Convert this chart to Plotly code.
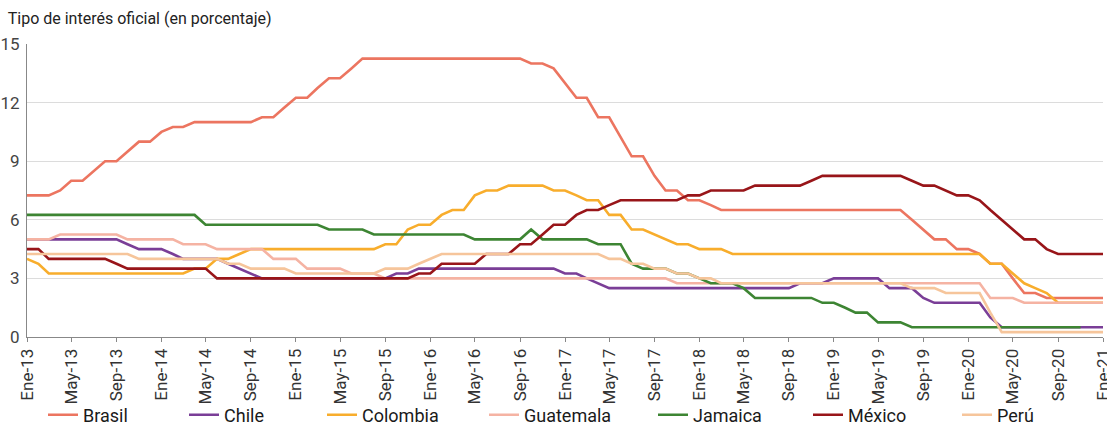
import pandas as pd
import plotly.graph_objects as go

# monthly series, Ene-13 .. Ene-21 (97 months)
months = pd.date_range("2013-01-01", "2021-01-01", freq="MS")

brasil = [7.25, 7.25, 7.25, 7.5, 8.0, 8.0, 8.5, 9.0, 9.0, 9.5, 10.0, 10.0,
          10.5, 10.75, 10.75, 11.0, 11.0, 11.0, 11.0, 11.0, 11.0, 11.25, 11.25, 11.75,
          12.25, 12.25, 12.75, 13.25, 13.25, 13.75, 14.25, 14.25, 14.25, 14.25, 14.25, 14.25,
          14.25, 14.25, 14.25, 14.25, 14.25, 14.25, 14.25, 14.25, 14.25, 14.0, 14.0, 13.75,
          13.0, 12.25, 12.25, 11.25, 11.25, 10.25, 9.25, 9.25, 8.25, 7.5, 7.5, 7.0,
          7.0, 6.75, 6.5, 6.5, 6.5, 6.5, 6.5, 6.5, 6.5, 6.5, 6.5, 6.5,
          6.5, 6.5, 6.5, 6.5, 6.5, 6.5, 6.5, 6.0, 5.5, 5.0, 5.0, 4.5,
          4.5, 4.25, 3.75, 3.75, 3.0, 2.25, 2.25, 2.0, 2.0, 2.0, 2.0, 2.0,
          2.0]

chile = [5.0, 5.0, 5.0, 5.0, 5.0, 5.0, 5.0, 5.0, 5.0, 4.75, 4.5, 4.5,
         4.5, 4.25, 4.0, 4.0, 4.0, 4.0, 3.75, 3.5, 3.25, 3.0, 3.0, 3.0,
         3.0, 3.0, 3.0, 3.0, 3.0, 3.0, 3.0, 3.0, 3.0, 3.25, 3.25, 3.5,
         3.5, 3.5, 3.5, 3.5, 3.5, 3.5, 3.5, 3.5, 3.5, 3.5, 3.5, 3.5,
         3.25, 3.25, 3.0, 2.75, 2.5, 2.5, 2.5, 2.5, 2.5, 2.5, 2.5, 2.5,
         2.5, 2.5, 2.5, 2.5, 2.5, 2.5, 2.5, 2.5, 2.5, 2.75, 2.75, 2.75,
         3.0, 3.0, 3.0, 3.0, 3.0, 2.5, 2.5, 2.5, 2.0, 1.75, 1.75, 1.75,
         1.75, 1.75, 1.0, 0.5, 0.5, 0.5, 0.5, 0.5, 0.5, 0.5, 0.5, 0.5,
         0.5]

colombia = [4.0, 3.75, 3.25, 3.25, 3.25, 3.25, 3.25, 3.25, 3.25, 3.25, 3.25, 3.25,
            3.25, 3.25, 3.25, 3.5, 3.5, 4.0, 4.0, 4.25, 4.5, 4.5, 4.5, 4.5,
            4.5, 4.5, 4.5, 4.5, 4.5, 4.5, 4.5, 4.5, 4.75, 4.75, 5.5, 5.75,
            5.75, 6.25, 6.5, 6.5, 7.25, 7.5, 7.5, 7.75, 7.75, 7.75, 7.75, 7.5,
            7.5, 7.25, 7.0, 7.0, 6.25, 6.25, 5.5, 5.5, 5.25, 5.0, 4.75, 4.75,
            4.5, 4.5, 4.5, 4.25, 4.25, 4.25, 4.25, 4.25, 4.25, 4.25, 4.25, 4.25,
            4.25, 4.25, 4.25, 4.25, 4.25, 4.25, 4.25, 4.25, 4.25, 4.25, 4.25, 4.25,
            4.25, 4.25, 3.75, 3.75, 3.25, 2.75, 2.5, 2.25, 1.75, 1.75, 1.75, 1.75,
            1.75]

guatemala = [5.0, 5.0, 5.0, 5.25, 5.25, 5.25, 5.25, 5.25, 5.25, 5.0, 5.0, 5.0,
             5.0, 5.0, 4.75, 4.75, 4.75, 4.5, 4.5, 4.5, 4.5, 4.5, 4.0, 4.0,
             4.0, 3.5, 3.5, 3.5, 3.5, 3.25, 3.25, 3.25, 3.0, 3.0, 3.0, 3.0,
             3.0, 3.0, 3.0, 3.0, 3.0, 3.0, 3.0, 3.0, 3.0, 3.0, 3.0, 3.0,
             3.0, 3.0, 3.0, 3.0, 3.0, 3.0, 3.0, 3.0, 3.0, 3.0, 2.75, 2.75,
             2.75, 2.75, 2.75, 2.75, 2.75, 2.75, 2.75, 2.75, 2.75, 2.75, 2.75, 2.75,
             2.75, 2.75, 2.75, 2.75, 2.75, 2.75, 2.75, 2.75, 2.75, 2.75, 2.75, 2.75,
             2.75, 2.75, 2.0, 2.0, 2.0, 1.75, 1.75, 1.75, 1.75, 1.75, 1.75, 1.75,
             1.75]

jamaica = [6.25, 6.25, 6.25, 6.25, 6.25, 6.25, 6.25, 6.25, 6.25, 6.25, 6.25, 6.25,
           6.25, 6.25, 6.25, 6.25, 5.75, 5.75, 5.75, 5.75, 5.75, 5.75, 5.75, 5.75,
           5.75, 5.75, 5.75, 5.5, 5.5, 5.5, 5.5, 5.25, 5.25, 5.25, 5.25, 5.25,
           5.25, 5.25, 5.25, 5.25, 5.0, 5.0, 5.0, 5.0, 5.0, 5.5, 5.0, 5.0,
           5.0, 5.0, 5.0, 4.75, 4.75, 4.75, 3.75, 3.5, 3.5, 3.5, 3.25, 3.25,
           3.0, 2.75, 2.75, 2.75, 2.5, 2.0, 2.0, 2.0, 2.0, 2.0, 2.0, 1.75,
           1.75, 1.5, 1.25, 1.25, 0.75, 0.75, 0.75, 0.5, 0.5, 0.5, 0.5, 0.5,
           0.5, 0.5, 0.5, 0.5, 0.5, 0.5, 0.5, 0.5, 0.5, 0.5, 0.5, None,
           None]

mexico = [4.5, 4.5, 4.0, 4.0, 4.0, 4.0, 4.0, 4.0, 3.75, 3.5, 3.5, 3.5,
          3.5, 3.5, 3.5, 3.5, 3.5, 3.0, 3.0, 3.0, 3.0, 3.0, 3.0, 3.0,
          3.0, 3.0, 3.0, 3.0, 3.0, 3.0, 3.0, 3.0, 3.0, 3.0, 3.0, 3.25,
          3.25, 3.75, 3.75, 3.75, 3.75, 4.25, 4.25, 4.25, 4.75, 4.75, 5.25, 5.75,
          5.75, 6.25, 6.5, 6.5, 6.75, 7.0, 7.0, 7.0, 7.0, 7.0, 7.0, 7.25,
          7.25, 7.5, 7.5, 7.5, 7.5, 7.75, 7.75, 7.75, 7.75, 7.75, 8.0, 8.25,
          8.25, 8.25, 8.25, 8.25, 8.25, 8.25, 8.25, 8.0, 7.75, 7.75, 7.5, 7.25,
          7.25, 7.0, 6.5, 6.0, 5.5, 5.0, 5.0, 4.5, 4.25, 4.25, 4.25, 4.25,
          4.25]

peru = [4.25, 4.25, 4.25, 4.25, 4.25, 4.25, 4.25, 4.25, 4.25, 4.25, 4.0, 4.0,
        4.0, 4.0, 4.0, 4.0, 4.0, 4.0, 3.75, 3.75, 3.5, 3.5, 3.5, 3.5,
        3.25, 3.25, 3.25, 3.25, 3.25, 3.25, 3.25, 3.25, 3.5, 3.5, 3.5, 3.75,
        4.0, 4.25, 4.25, 4.25, 4.25, 4.25, 4.25, 4.25, 4.25, 4.25, 4.25, 4.25,
        4.25, 4.25, 4.25, 4.25, 4.0, 4.0, 3.75, 3.75, 3.5, 3.5, 3.25, 3.25,
        3.0, 3.0, 2.75, 2.75, 2.75, 2.75, 2.75, 2.75, 2.75, 2.75, 2.75, 2.75,
        2.75, 2.75, 2.75, 2.75, 2.75, 2.75, 2.75, 2.5, 2.5, 2.5, 2.25, 2.25,
        2.25, 2.25, 1.25, 0.25, 0.25, 0.25, 0.25, 0.25, 0.25, 0.25, 0.25, 0.25,
        0.25]

tick_dates = pd.date_range("2013-01-01", "2021-01-01", freq="4MS")
tick_labels = ["Ene-13", "May-13", "Sep-13", "Ene-14", "May-14", "Sep-14", "Ene-15",
               "May-15", "Sep-15", "Ene-16", "May-16", "Sep-16", "Ene-17", "May-17",
               "Sep-17", "Ene-18", "May-18", "Sep-18", "Ene-19", "May-19", "Sep-19",
               "Ene-20", "May-20", "Sep-20", "Ene-21"]

series = [
    ("Brasil", brasil, "#ec7560"),
    ("Chile", chile, "#7a3e97"),
    ("Colombia", colombia, "#f8ad2c"),
    ("Guatemala", guatemala, "#f5b3a3"),
    ("Jamaica", jamaica, "#3d8533"),
    ("México", mexico, "#981519"),
    ("Perú", peru, "#f6c59b"),
]
# left edge (px) of each legend entry
legend_px = [43, 184, 322, 484, 653, 808, 957]

font_family = "Roboto, sans-serif"

fig = go.Figure()
layout_legends = {}
for i, (name, values, color) in enumerate(series):
    key = "legend" if i == 0 else "legend%d" % (i + 1)
    fig.add_trace(go.Scatter(
        x = months, y = values, name = name, mode = "lines",
        line = dict(color = color, width = 2.6),
        legend = key,
        hovertemplate = name + ": %{y}<extra></extra>",
    ))
    layout_legends[key] = dict(
        xref = "container", yref = "container",
        x = legend_px[i] / 1107, y = 1 - 415 / 428,
        xanchor = "left", yanchor = "middle",
        orientation = "h", bgcolor = "rgba(0,0,0,0)",
        font = dict(family = font_family, size = 18, color = "#1a1a1a"),
        itemwidth = 30,
    )

fig.update_layout(
    width = 1107, height = 428,
    margin = dict(l = 27, r = 4, t = 44, b = 91),
    plot_bgcolor = "white", paper_bgcolor = "white",
    font = dict(family = font_family, color = "#333333"),
    title = dict(text = "Tipo de interés oficial (en porcentaje)",
                 x = 0.007, xanchor = "left", y = 0.958, yanchor = "middle",
                 font = dict(family = font_family, size = 16, color = "#222222")),
    showlegend = True,
    **layout_legends
)

fig.update_xaxes(
    range = [months[0], months[-1]],
    tickvals = tick_dates, ticktext = tick_labels, tickangle = -90,
    tickfont = dict(size = 17, color = "#333333"),
    ticks = "outside", ticklen = 4, tickcolor = "#888888",
    showline = True, linecolor = "#888888", linewidth = 1,
    showgrid = False, zeroline = False,
    automargin = False, ticklabeloverflow = "allow",
)
fig.update_yaxes(
    range = [0, 15], tickvals = [0, 3, 6, 9, 12, 15],
    tickfont = dict(size = 17, color = "#444444"),
    showline = True, linecolor = "#888888", linewidth = 1,
    gridcolor = "#dcdcdc", gridwidth = 1.3, zeroline = False,
    ticks = "", ticklabelstandoff = 3, automargin = False,
)

# the page's default body margin would push the figure 8px in
fig.write_html("out.html", config = {"displayModeBar": False},
               post_script = "document.body.style.margin = '0';")
